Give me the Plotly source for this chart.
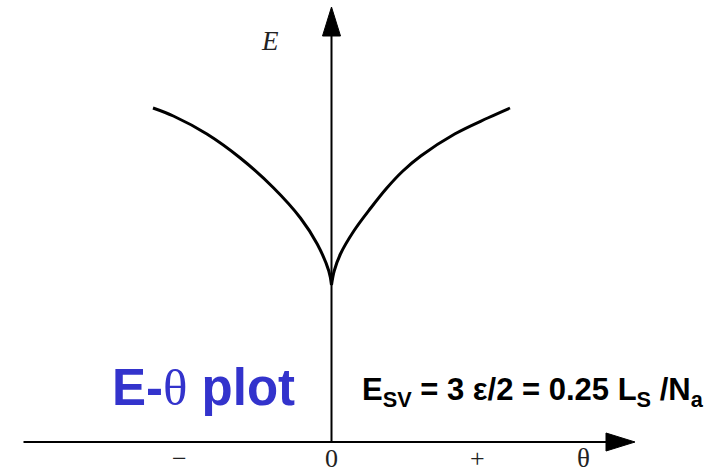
import plotly.graph_objects as go

# Energy vs. misorientation angle: two branches meeting in a cusp at theta = 0
theta_left = [-1.0, -0.886, -0.698, -0.511, -0.324, -0.174, -0.080, -0.015, 0.0]
energy_left = [3.34, 3.26, 3.08, 2.84, 2.54, 2.24, 1.98, 1.71, 1.57]

theta_right = [0.0, 0.015, 0.05, 0.125, 0.22, 0.31, 0.40, 0.50, 0.69, 0.875, 1.0]
energy_right = [1.57, 1.71, 1.88, 2.11, 2.34, 2.54, 2.71, 2.86, 3.08, 3.24, 3.34]

tick_labels = ["\u2212", "0", "+"]
tick_positions = [-0.854, 0.0, 0.82]

W, H = 717, 474
# axis scaling: pixels per unit
PX_X = 178.5
PX_Y = 100.0
X0_PX = 331.5   # pixel column of theta = 0
Y0_PX = 442.0   # pixel row of E = 0

x_range = [-X0_PX / PX_X, (W - X0_PX) / PX_X]
y_range = [-(H - Y0_PX) / PX_Y, Y0_PX / PX_Y]


def px_x(p):
    return (p - X0_PX) / PX_X


def px_y(p):
    return (Y0_PX - p) / PX_Y


fig = go.Figure()
for xs, ys in [(theta_left, energy_left), (theta_right, energy_right)]:
    fig.add_trace(go.Scatter(
        x=xs, y=ys, mode="lines",
        line=dict(color="black", width=3, shape="spline", smoothing=1.0),
        hoverinfo="skip", showlegend=False,
    ))

axis_col = "black"
shapes = [
    # horizontal axis
    dict(type="line", x0=px_x(23.5), x1=px_x(610), y0=0, y1=0,
         line=dict(color=axis_col, width=2)),
    # vertical axis
    dict(type="line", x0=0, x1=0, y0=0, y1=px_y(34),
         line=dict(color=axis_col, width=2)),
    # arrow heads
    dict(type="path",
         path=f"M {px_x(606)} {px_y(433)} L {px_x(635)} 0 L {px_x(606)} {px_y(451)} Z",
         fillcolor=axis_col, line=dict(color=axis_col, width=1)),
    dict(type="path",
         path=f"M {px_x(322.5)} {px_y(36)} L 0 {px_y(7)} L {px_x(340.5)} {px_y(36)} Z",
         fillcolor=axis_col, line=dict(color=axis_col, width=1)),
]

serif = "Liberation Serif"
annotations = []
for lab, pos in zip(tick_labels, tick_positions):
    annotations.append(dict(x=pos, y=px_y(458), text=lab, showarrow=False,
                            xanchor="center", yanchor="middle", borderpad=0,
                            font=dict(family=serif, size=26, color="#222")))
annotations.append(dict(x=px_x(583), y=px_y(458), text="\u03b8", showarrow=False,
                        xanchor="center", yanchor="middle", borderpad=0,
                        font=dict(family=serif, size=27, color="#222")))
annotations.append(dict(x=px_x(270), y=px_y(41), text="<i>E</i>", showarrow=False,
                        xanchor="center", yanchor="middle",
                        font=dict(family=serif, size=27, color="#222")))
annotations.append(dict(
    x=px_x(110), y=px_y(387), xanchor="left", yanchor="middle", showarrow=False,
    text="<b>E-</b><span style='font-family:Liberation Serif;font-weight:normal'>\u03b8</span><b> plot</b>",
    font=dict(family="Liberation Sans", size=51, color="#3333CC")))
annotations.append(dict(
    x=px_x(360), y=px_y(392), xanchor="left", yanchor="middle", showarrow=False,
    text="<b>E<sub>SV</sub> = 3 \u03b5/2 = 0.25 L<sub>S</sub> /N<sub>a</sub></b>",
    font=dict(family="Liberation Sans", size=31, color="black")))

fig.update_layout(
    width=W, height=H,
    margin=dict(l=0, r=0, t=0, b=0),
    paper_bgcolor="white", plot_bgcolor="white",
    xaxis=dict(range=x_range, visible=False, fixedrange=True),
    yaxis=dict(range=y_range, visible=False, fixedrange=True),
    shapes=shapes, annotations=annotations,
    showlegend=False,
)

fig.write_html("out.html")
